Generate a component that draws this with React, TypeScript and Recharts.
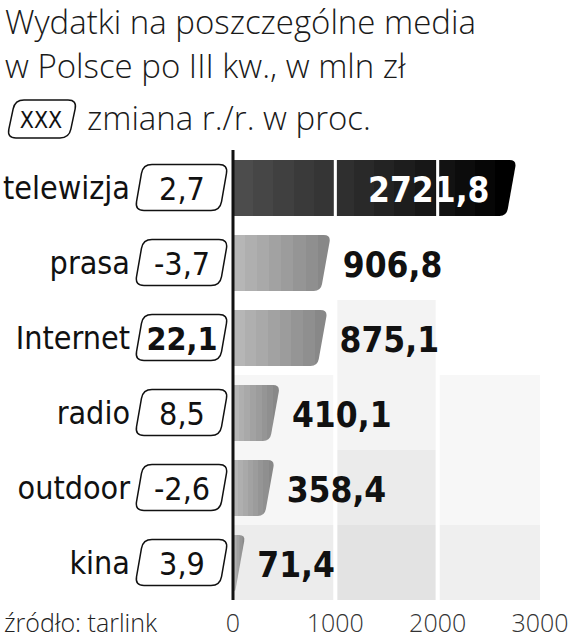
import { BarChart, Bar, XAxis, YAxis, LabelList, ReferenceArea, ReferenceLine } from 'recharts'

const categories = ['telewizja', 'prasa', 'Internet', 'radio', 'outdoor', 'kina']
const spending = [2721.8, 906.8, 875.1, 410.1, 358.4, 71.4]
const changeYoY = [2.7, -3.7, 22.1, 8.5, -2.6, 3.9]
const xTicks = [0, 1000, 2000, 3000]

const data = categories.map((name, i) => ({ name, value: spending[i], change: changeYoY[i] }))

// decorative background steps behind the bars: [x1, x2, firstRow, lastRow, fill]
const shading: Array<[number, number, string, string, string]> = [
  [1020, 1980, 'Internet', 'radio', '#f3f3f3'],
  [1020, 1980, 'outdoor', 'outdoor', '#ebebeb'],
  [1020, 1980, 'kina', 'kina', '#e3e3e3'],
  [0, 980, 'radio', 'outdoor', '#f6f6f6'],
  [0, 980, 'kina', 'kina', '#ececec'],
  [2020, 3000, 'radio', 'outdoor', '#f7f7f7'],
  [2020, 3000, 'kina', 'kina', '#efefef'],
]

const cond = '"DejaVu Sans Condensed", "Liberation Sans Narrow", "Roboto", sans-serif'
const light = '"Open Sans", "Lato", sans-serif'

const fmt = (v: number) => v.toFixed(1).replace('.', ',')

function roundedPoly(pts: Array<[number, number]>, radii: number[]) {
  let d = ''
  const n = pts.length
  pts.forEach((cur, i) => {
    const prev = pts[(i - 1 + n) % n]
    const next = pts[(i + 1) % n]
    const l1 = Math.hypot(prev[0] - cur[0], prev[1] - cur[1])
    const l2 = Math.hypot(next[0] - cur[0], next[1] - cur[1])
    const r = Math.min(radii[i], l1 / 2, l2 / 2)
    const a = [cur[0] + ((prev[0] - cur[0]) / l1) * r, cur[1] + ((prev[1] - cur[1]) / l1) * r]
    const b = [cur[0] + ((next[0] - cur[0]) / l2) * r, cur[1] + ((next[1] - cur[1]) / l2) * r]
    d += `${i === 0 ? 'M' : 'L'}${a[0]},${a[1]} Q${cur[0]},${cur[1]} ${b[0]},${b[1]} `
  })
  return d + 'Z'
}

function changeBox(right: number, cy: number, w = 93, h = 46) {
  const t = cy - h / 2
  const b = cy + h / 2
  return roundedPoly(
    [[right - w + 8, t], [right, t], [right - 8, b], [right - w, b]],
    [9, 9, 9, 9]
  )
}

function SlantBar(props: any) {
  const { x, y, width, height, index } = props
  const xe = x + width
  const s = Math.min(5, width)
  const path = roundedPoly(
    [[x, y], [xe + s, y], [xe - s, y + height], [x, y + height]],
    [0, 7, 7, 0]
  )
  return <path d={path} fill={`url(#bar-grad-${index})`} />
}

function CategoryTick(props: any) {
  const { x, y, payload, index } = props
  const ch = changeYoY[index]
  return (
    <g>
      <text x={x - 103} y={y} textAnchor="end" dominantBaseline="central" fontFamily={cond} fontSize={32} fill="#111">
        {payload.value}
      </text>
      <path d={changeBox(x - 5, y)} fill="#fff" stroke="#111" strokeWidth={1.5} />
      <text x={x - 51} y={y + 1} textAnchor="middle" dominantBaseline="central" fontFamily={cond} fontSize={32}
        fontWeight={ch === Math.max(...changeYoY) ? 700 : 400} fill="#111">
        {fmt(ch)}
      </text>
    </g>
  )
}

function ValueTick(props: any) {
  const { x, y, payload } = props
  return (
    <text x={x} y={y + 22} textAnchor="middle" dominantBaseline="central" fontFamily={light} fontWeight={300} fontSize={25} fill="#333">
      {payload.value}
    </text>
  )
}

function ValueLabel(props: any) {
  const { x, y, width, height, value, index } = props
  const inside = index === 0
  return (
    <text
      x={inside ? x + width - 22 : x + width + 17}
      y={y + height / 2 + 2}
      textAnchor={inside ? 'end' : 'start'}
      dominantBaseline="central"
      fontFamily={cond}
      fontWeight={700}
      fontSize={35}
      fill={inside ? '#fff' : '#111'}
    >
      {fmt(value)}
    </text>
  )
}

function stripeStops(from: number, to: number, n: number) {
  const stops: any[] = []
  for (let i = 0; i < n; i++) {
    const g = Math.round(from + ((to - from) * i) / (n - 1))
    const c = `rgb(${g},${g},${g})`
    stops.push(<stop key={`a${i}`} offset={`${(i / n) * 100}%`} stopColor={c} />)
    stops.push(<stop key={`b${i}`} offset={`${((i + 1) / n) * 100}%`} stopColor={c} />)
  }
  return stops
}

export default function App() {
  return (
    <div style={{ position: 'absolute', left: 0, top: 0, width: 569, height: 640, background: '#fff', overflow: 'hidden' }}>
      <div style={{ position: 'absolute', left: 0, top: 0 }}>
        <BarChart width={569} height={640} data={data} layout="vertical" margin={{ top: 150, right: 29, bottom: 0, left: 0 }} barSize={56}>
          <defs>
            {data.map((d, i) => (
              <linearGradient key={d.name} id={`bar-grad-${i}`} x1="0" y1="0" x2="1" y2="0">
                {i === 0 ? stripeStops(76, 0, 14) : stripeStops(182, 136, 8)}
              </linearGradient>
            ))}
          </defs>
          <XAxis type="number" domain={[0, 3000]} ticks={xTicks} height={40} axisLine={false} tickLine={false} tickSize={0} tickMargin={0} tick={<ValueTick />} interval={0} />
          <YAxis dataKey="name" type="category" width={233} axisLine={false} tickLine={false} tickSize={0} tickMargin={0} tick={<CategoryTick />} interval={0} />
          {shading.map(([x1, x2, y1, y2, fill], i) => (
            <ReferenceArea key={i} x1={x1} x2={x2} y1={y1} y2={y2} fill={fill} fillOpacity={1} stroke="none" zIndex={-10} />
          ))}
          <Bar dataKey="value" shape={<SlantBar />} isAnimationActive={false}>
            <LabelList dataKey="value" content={<ValueLabel />} />
          </Bar>
          <ReferenceArea x1={985} x2={1015} y1="telewizja" y2="telewizja" fill="#fff" fillOpacity={1} stroke="none" zIndex={350} />
          <ReferenceArea x1={1985} x2={2015} y1="telewizja" y2="telewizja" fill="#fff" fillOpacity={1} stroke="none" zIndex={350} />
          <ReferenceLine x={0} stroke="#111" strokeWidth={3} zIndex={500} />
        </BarChart>
      </div>
      <div style={{ position: 'absolute', left: 5, top: 0, fontFamily: light, fontWeight: 300, fontSize: 33, lineHeight: '44px', color: '#1a1a1a', whiteSpace: 'nowrap' }}>
        Wydatki na poszczególne media<br />w Polsce po III kw., w mln zł
      </div>
      <svg style={{ position: 'absolute', left: 0, top: 96 }} width={90} height={50}>
        <path d={changeBox(77, 23, 70, 38)} fill="#fff" stroke="#111" strokeWidth={1.5} />
        <text x={41} y={24} textAnchor="middle" dominantBaseline="central" fontFamily={cond} fontSize={23} fill="#111">XXX</text>
      </svg>
      <div style={{ position: 'absolute', left: 87, top: 96, fontFamily: light, fontWeight: 300, fontSize: 33, lineHeight: '44px', color: '#1a1a1a', whiteSpace: 'nowrap' }}>
        zmiana r./r. w proc.
      </div>
      <div style={{ position: 'absolute', left: 4, top: 604, fontFamily: light, fontWeight: 300, fontSize: 25, lineHeight: '36px', color: '#222', whiteSpace: 'nowrap' }}>
        źródło: tarlink
      </div>
    </div>
  )
}
